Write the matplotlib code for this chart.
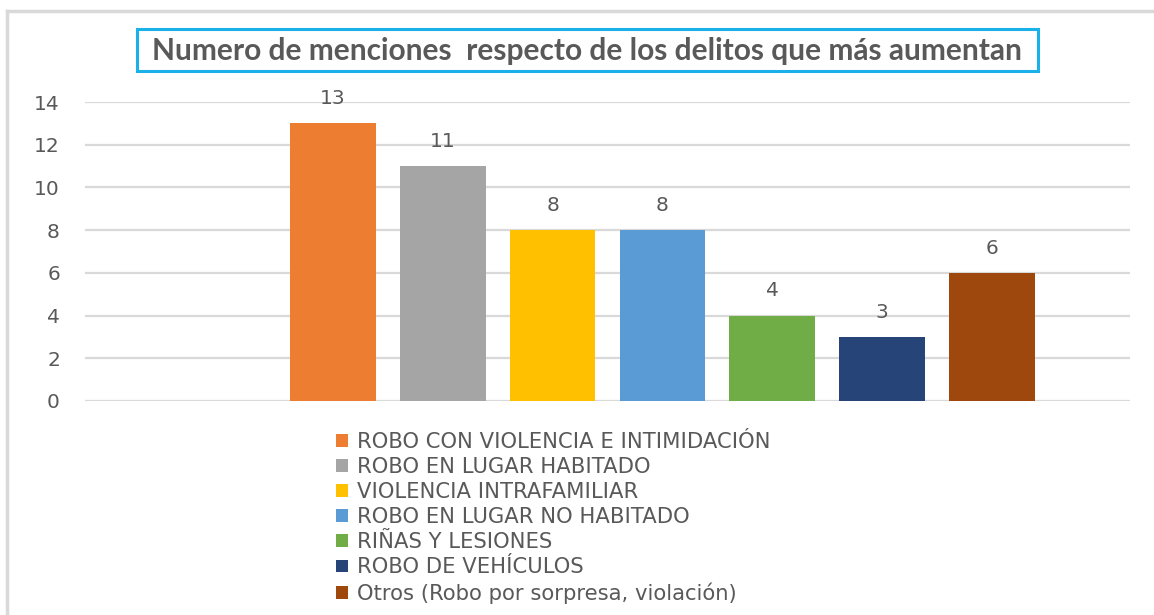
import matplotlib.pyplot as plt
from matplotlib.patches import Rectangle
from matplotlib.lines import Line2D

# data
categories = [
    'ROBO CON VIOLENCIA E INTIMIDACIÓN',
    'ROBO EN LUGAR HABITADO',
    'VIOLENCIA INTRAFAMILIAR',
    'ROBO EN LUGAR NO HABITADO',
    'RIÑAS Y LESIONES',
    'ROBO DE VEHÍCULOS',
    'Otros (Robo por sorpresa, violación)',
]
values = [13, 11, 8, 8, 4, 3, 6]
colors = ['#ED7D31', '#A5A5A5', '#FFC000', '#5B9BD5', '#70AD47', '#264478', '#9E480E']
yticks = [0, 2, 4, 6, 8, 10, 12, 14]
title = 'Numero de menciones  respecto de los delitos que más aumentan'

txt = '#595959'
grid = '#d9d9d9'

fig = plt.figure(figsize=(11.54, 6.15), dpi=100)
ax = fig.add_axes([85 / 1154, 1 - 401 / 615, 1045 / 1154, 299 / 615])

# one bar per series
bars = []
for i, (lab, v, c) in enumerate(zip(categories, values, colors)):
    b = ax.bar(i, v, width=0.78, color=c, label=lab, zorder=3)
    bars.append(b)
    ax.annotate(str(v), (i, v), xytext=(0, 11), textcoords='offset points',
                ha='center', va='bottom', fontsize=14.5, color=txt)

ax.set_xlim(-2.26, 7.26)
ax.set_ylim(0, 14)
ax.set_yticks(yticks)
ax.set_xticks([])
ax.yaxis.grid(True, color=grid, lw=1.6, zorder=0)
for s in ax.spines.values():
    s.set_visible(False)
ax.tick_params(axis='y', length=0, pad=18, labelsize=14.5, labelcolor=txt)

# title with cyan box
fig.patches.append(Rectangle((137 / 1154, 1 - 71 / 615), 901 / 1154, 42 / 615,
                             transform=fig.transFigure, fill=False,
                             edgecolor='#1AB0E8', lw=2.2))
fig.text(587 / 1154, 1 - 51 / 615, title, ha='center', va='center',
         fontsize=21.5, fontweight='bold', color=txt, family='Lato')

# legend below the plot
fig.legend(handles=[b[0] for b in bars], labels=categories,
           loc='upper left', bbox_to_anchor=(336 / 1154, 1 - 432 / 615),
           frameon=False, fontsize=15.2, labelcolor=txt,
           handlelength=0.55, handleheight=0.55, handletextpad=0.45,
           labelspacing=0.24, borderpad=0, borderaxespad=0)

# light frame on top and left edges
fig.add_artist(Line2D([7 / 1154, 7 / 1154], [0, 1 - 11 / 615], color=grid, lw=2.5,
                      transform=fig.transFigure))
fig.add_artist(Line2D([7 / 1154, 1], [1 - 11 / 615, 1 - 11 / 615], color=grid, lw=2.5,
                      transform=fig.transFigure))

fig.savefig('out.png', dpi=100, facecolor='white')
